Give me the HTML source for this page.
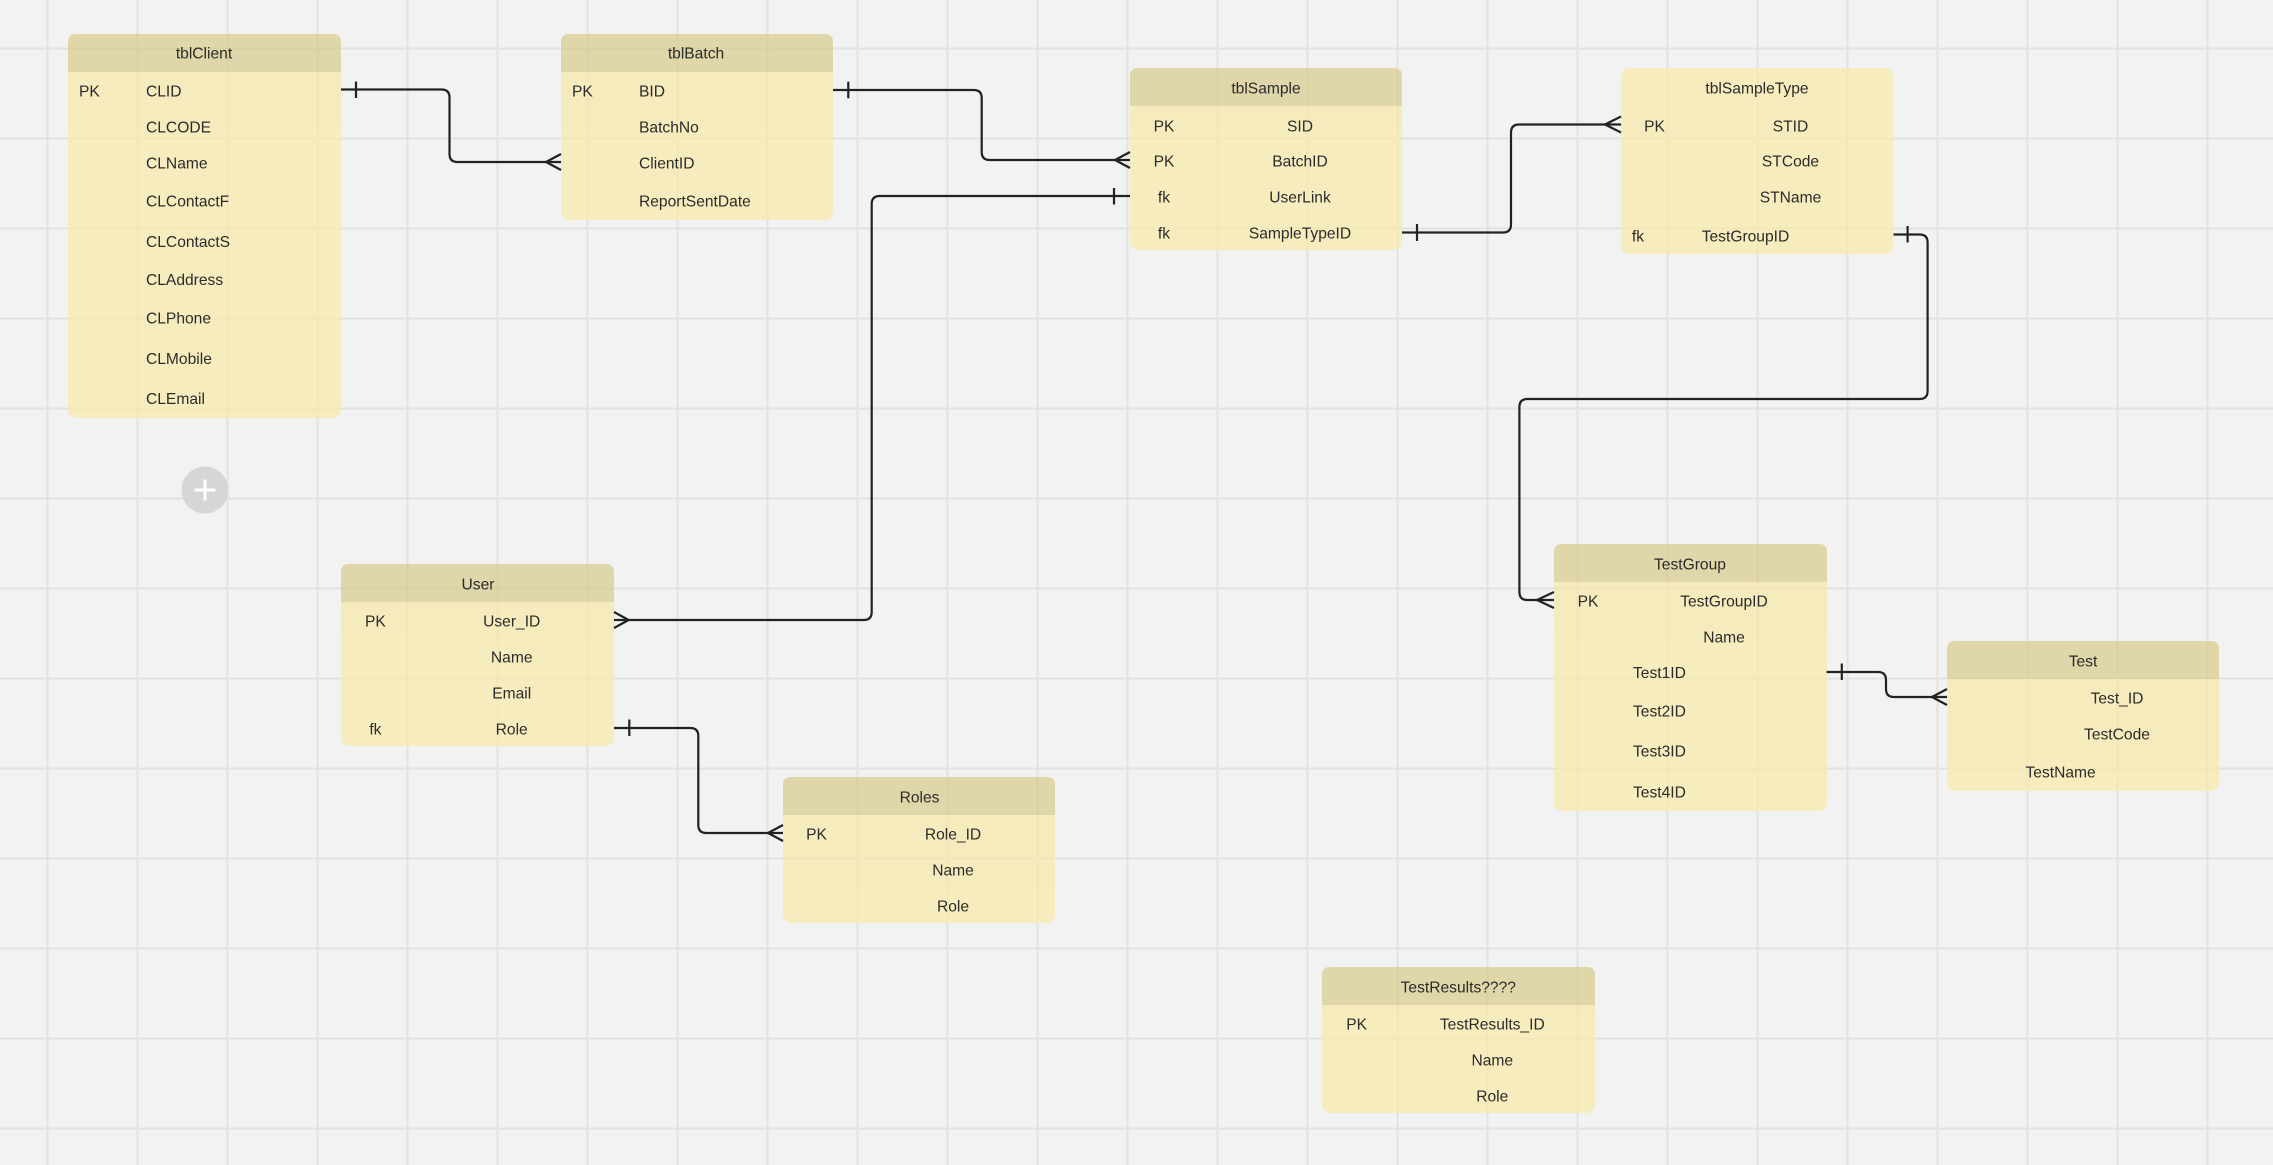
<!DOCTYPE html>
<html>
<head>
<meta charset="utf-8">
<style>
  html, body { margin: 0; padding: 0; background: #f2f2f2; }
  body { width: 2273px; height: 1165px; overflow: hidden; }
  svg { display: block; }
  text { font-family: "Liberation Sans", "DejaVu Sans", sans-serif; font-size: 15.6px; fill: #2b2b2b; }
  .m { text-anchor: middle; }
</style>
</head>
<body>
<svg width="2273" height="1165" viewBox="0 0 2273 1165" xmlns="http://www.w3.org/2000/svg">
  <rect x="0" y="0" width="2273" height="1165" fill="#f2f2f2"/>
  <!-- grid -->
  <g stroke="#e2e2e2" stroke-width="2">
    <line x1="47.5" y1="0" x2="47.5" y2="1165"/>
    <line x1="137.5" y1="0" x2="137.5" y2="1165"/>
    <line x1="227.5" y1="0" x2="227.5" y2="1165"/>
    <line x1="317.5" y1="0" x2="317.5" y2="1165"/>
    <line x1="407.5" y1="0" x2="407.5" y2="1165"/>
    <line x1="497.5" y1="0" x2="497.5" y2="1165"/>
    <line x1="587.5" y1="0" x2="587.5" y2="1165"/>
    <line x1="677.5" y1="0" x2="677.5" y2="1165"/>
    <line x1="767.5" y1="0" x2="767.5" y2="1165"/>
    <line x1="857.5" y1="0" x2="857.5" y2="1165"/>
    <line x1="947.5" y1="0" x2="947.5" y2="1165"/>
    <line x1="1037.5" y1="0" x2="1037.5" y2="1165"/>
    <line x1="1127.5" y1="0" x2="1127.5" y2="1165"/>
    <line x1="1217.5" y1="0" x2="1217.5" y2="1165"/>
    <line x1="1307.5" y1="0" x2="1307.5" y2="1165"/>
    <line x1="1397.5" y1="0" x2="1397.5" y2="1165"/>
    <line x1="1487.5" y1="0" x2="1487.5" y2="1165"/>
    <line x1="1577.5" y1="0" x2="1577.5" y2="1165"/>
    <line x1="1667.5" y1="0" x2="1667.5" y2="1165"/>
    <line x1="1757.5" y1="0" x2="1757.5" y2="1165"/>
    <line x1="1847.5" y1="0" x2="1847.5" y2="1165"/>
    <line x1="1937.5" y1="0" x2="1937.5" y2="1165"/>
    <line x1="2027.5" y1="0" x2="2027.5" y2="1165"/>
    <line x1="2117.5" y1="0" x2="2117.5" y2="1165"/>
    <line x1="2207.5" y1="0" x2="2207.5" y2="1165"/>
    <line x1="0" y1="48.5" x2="2273" y2="48.5"/>
    <line x1="0" y1="138.5" x2="2273" y2="138.5"/>
    <line x1="0" y1="228.5" x2="2273" y2="228.5"/>
    <line x1="0" y1="318.5" x2="2273" y2="318.5"/>
    <line x1="0" y1="408.5" x2="2273" y2="408.5"/>
    <line x1="0" y1="498.5" x2="2273" y2="498.5"/>
    <line x1="0" y1="588.5" x2="2273" y2="588.5"/>
    <line x1="0" y1="678.5" x2="2273" y2="678.5"/>
    <line x1="0" y1="768.5" x2="2273" y2="768.5"/>
    <line x1="0" y1="858.5" x2="2273" y2="858.5"/>
    <line x1="0" y1="948.5" x2="2273" y2="948.5"/>
    <line x1="0" y1="1038.5" x2="2273" y2="1038.5"/>
    <line x1="0" y1="1128.5" x2="2273" y2="1128.5"/>
  </g>

  <!-- tables (semi-transparent) -->
  <g opacity="0.7">
    <!-- tblClient -->
    <rect x="68" y="34" width="273" height="384" rx="8" fill="#f8e9a8"/>
    <path d="M68,72 V42 Q68,34 76,34 H333 Q341,34 341,42 V72 Z" fill="#d8cb8b"/>
  </g>
  <g opacity="0.7">
    <rect x="561" y="34" width="272" height="186" rx="8" fill="#f8e9a8"/>
    <path d="M561,72 V42 Q561,34 569,34 H825 Q833,34 833,42 V72 Z" fill="#d8cb8b"/>
  </g>
  <g opacity="0.7">
    <rect x="1130" y="68" width="272" height="182" rx="8" fill="#f8e9a8"/>
    <path d="M1130,106 V76 Q1130,68 1138,68 H1394 Q1402,68 1402,76 V106 Z" fill="#d8cb8b"/>
  </g>
  <g opacity="0.7">
    <rect x="1621" y="68" width="272" height="186" rx="8" fill="#f8e9a8"/>
  </g>
  <g opacity="0.7">
    <rect x="341" y="564" width="273" height="182" rx="8" fill="#f8e9a8"/>
    <path d="M341,602 V572 Q341,564 349,564 H606 Q614,564 614,572 V602 Z" fill="#d8cb8b"/>
  </g>
  <g opacity="0.7">
    <rect x="783" y="777" width="272" height="146" rx="8" fill="#f8e9a8"/>
    <path d="M783,815 V785 Q783,777 791,777 H1047 Q1055,777 1055,785 V815 Z" fill="#d8cb8b"/>
  </g>
  <g opacity="0.7">
    <rect x="1554" y="544" width="273" height="267" rx="8" fill="#f8e9a8"/>
    <path d="M1554,582 V552 Q1554,544 1562,544 H1819 Q1827,544 1827,552 V582 Z" fill="#d8cb8b"/>
  </g>
  <g opacity="0.7">
    <rect x="1947" y="641" width="272" height="150" rx="8" fill="#f8e9a8"/>
    <path d="M1947,679 V649 Q1947,641 1955,641 H2211 Q2219,641 2219,649 V679 Z" fill="#d8cb8b"/>
  </g>
  <g opacity="0.7">
    <rect x="1322" y="967" width="273" height="146" rx="8" fill="#f8e9a8"/>
    <path d="M1322,1005 V975 Q1322,967 1330,967 H1587 Q1595,967 1595,975 V1005 Z" fill="#d8cb8b"/>
  </g>

  <!-- plus button -->
  <circle cx="205" cy="490" r="23.5" fill="#d6d6d6"/>
  <line x1="194.5" y1="490" x2="215.5" y2="490" stroke="#ffffff" stroke-width="3"/>
  <line x1="205" y1="479.5" x2="205" y2="500.5" stroke="#ffffff" stroke-width="3"/>

  <!-- connectors -->
  <g fill="none" stroke="#222222" stroke-width="2.2" stroke-linejoin="round">
    <!-- tblClient -> tblBatch -->
    <path d="M341,89.5 H441.5 Q449.5,89.5 449.5,97.5 V154 Q449.5,162 457.5,162 H561"/>
    <path d="M356,81.5 V98"/>
    <path d="M546,162 L561,154 M546,162 L561,170"/>
    <!-- tblBatch -> tblSample -->
    <path d="M833,90 H973.7 Q981.7,90 981.7,98 V152 Q981.7,160 989.7,160 H1130"/>
    <path d="M848.3,81.7 V98.3"/>
    <path d="M1115,160 L1130,152 M1115,160 L1130,168"/>
    <!-- tblSample UserLink -> User -->
    <path d="M1130,196 H879.7 Q871.7,196 871.7,204 V612 Q871.7,620 863.7,620 H614"/>
    <path d="M1114,188 V204.5"/>
    <path d="M628.6,620 L614,612 M628.6,620 L614,628"/>
    <!-- tblSample -> tblSampleType -->
    <path d="M1402,232.5 H1503 Q1511,232.5 1511,224.5 V132.5 Q1511,124.5 1519,124.5 H1621"/>
    <path d="M1417,224 V241"/>
    <path d="M1605,124.5 L1621,116.5 M1605,124.5 L1621,132.5"/>
    <!-- tblSampleType -> TestGroup -->
    <path d="M1893.5,234.5 H1919.6 Q1927.6,234.5 1927.6,242.5 V391 Q1927.6,399 1919.6,399 H1527.4 Q1519.4,399 1519.4,407 V592 Q1519.4,600 1527.4,600 H1554"/>
    <path d="M1907.6,226 V242.5"/>
    <path d="M1537,600 L1554,592 M1537,600 L1554,608"/>
    <!-- User Role -> Roles -->
    <path d="M614,728 H690.3 Q698.3,728 698.3,736 V825 Q698.3,833 706.3,833 H783"/>
    <path d="M629.3,719.5 V736"/>
    <path d="M768,833 L783,825 M768,833 L783,841"/>
    <!-- TestGroup -> Test -->
    <path d="M1826.5,672 H1878 Q1886,672 1886,680 V689 Q1886,697 1894,697 H1947"/>
    <path d="M1841.8,663.5 V680"/>
    <path d="M1932,697 L1947,689 M1932,697 L1947,705"/>
  </g>

  <!-- tblClient text -->
  <text class="m" x="204" y="58.6">tblClient</text>
  <text x="79" y="96.3">PK</text>
  <text x="146" y="96.3">CLID</text>
  <text x="146" y="132.3">CLCODE</text>
  <text x="146" y="168.3">CLName</text>
  <text x="146" y="206.6">CLContactF</text>
  <text x="146" y="246.9">CLContactS</text>
  <text x="146" y="284.9">CLAddress</text>
  <text x="146" y="323.3">CLPhone</text>
  <text x="146" y="363.9">CLMobile</text>
  <text x="146" y="403.9">CLEmail</text>

  <!-- tblBatch text -->
  <text class="m" x="696" y="58.6">tblBatch</text>
  <text x="572" y="96.3">PK</text>
  <text x="639" y="96.3">BID</text>
  <text x="639" y="132.3">BatchNo</text>
  <text x="639" y="168.3">ClientID</text>
  <text x="639" y="206.6">ReportSentDate</text>

  <!-- tblSample text -->
  <text class="m" x="1266" y="93.6">tblSample</text>
  <text class="m" x="1164" y="131.3">PK</text>
  <text class="m" x="1300" y="131.3">SID</text>
  <text class="m" x="1164" y="166.6">PK</text>
  <text class="m" x="1300" y="166.6">BatchID</text>
  <text class="m" x="1164" y="202.6">fk</text>
  <text class="m" x="1300" y="202.6">UserLink</text>
  <text class="m" x="1164" y="238.6">fk</text>
  <text class="m" x="1300" y="238.6">SampleTypeID</text>

  <!-- tblSampleType text -->
  <text class="m" x="1757" y="93.6">tblSampleType</text>
  <text class="m" x="1654.5" y="131.3">PK</text>
  <text class="m" x="1790.5" y="131.3">STID</text>
  <text class="m" x="1790.5" y="166.6">STCode</text>
  <text class="m" x="1790.5" y="202.6">STName</text>
  <text class="m" x="1638" y="241.3">fk</text>
  <text class="m" x="1745.5" y="241.3">TestGroupID</text>

  <!-- User text -->
  <text class="m" x="478" y="589.3">User</text>
  <text class="m" x="375.4" y="626.3">PK</text>
  <text class="m" x="511.7" y="626.3">User_ID</text>
  <text class="m" x="511.7" y="662.3">Name</text>
  <text class="m" x="511.7" y="698.3">Email</text>
  <text class="m" x="375.4" y="734.3">fk</text>
  <text class="m" x="511.7" y="734.3">Role</text>

  <!-- Roles text -->
  <text class="m" x="919.5" y="802.3">Roles</text>
  <text class="m" x="816.5" y="839.6">PK</text>
  <text class="m" x="953" y="839.6">Role_ID</text>
  <text class="m" x="953" y="875.6">Name</text>
  <text class="m" x="953" y="911.3">Role</text>

  <!-- TestGroup text -->
  <text class="m" x="1690" y="569.3">TestGroup</text>
  <text class="m" x="1588" y="606.3">PK</text>
  <text class="m" x="1724" y="606.3">TestGroupID</text>
  <text class="m" x="1724" y="642.3">Name</text>
  <text x="1633" y="677.9">Test1ID</text>
  <text x="1633" y="716.3">Test2ID</text>
  <text x="1633" y="756.6">Test3ID</text>
  <text x="1633" y="797.3">Test4ID</text>

  <!-- Test text -->
  <text class="m" x="2083" y="666.3">Test</text>
  <text class="m" x="2117" y="703.6">Test_ID</text>
  <text class="m" x="2117" y="739.3">TestCode</text>
  <text x="2025.5" y="777.6">TestName</text>

  <!-- TestResults text -->
  <text class="m" x="1458.3" y="992.3">TestResults????</text>
  <text class="m" x="1356.7" y="1029.6">PK</text>
  <text class="m" x="1492.3" y="1029.6">TestResults_ID</text>
  <text class="m" x="1492.3" y="1065.6">Name</text>
  <text class="m" x="1492.3" y="1101.6">Role</text>
</svg>
</body>
</html>
